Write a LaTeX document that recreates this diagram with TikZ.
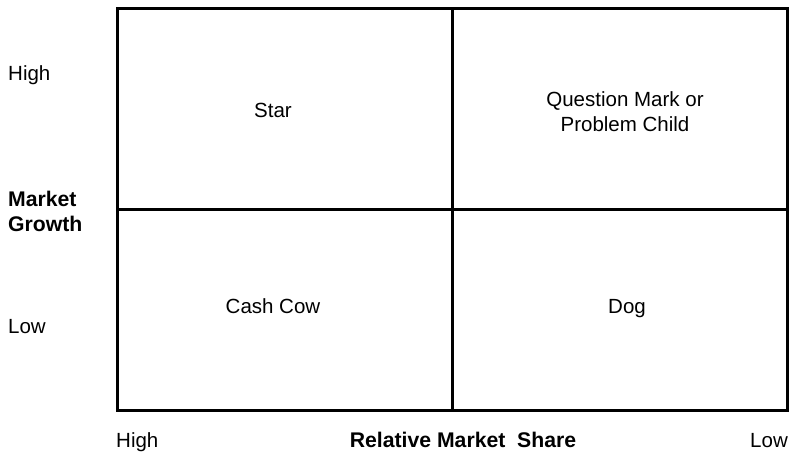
\documentclass[tikz,border=0pt]{standalone}
\usepackage{fontspec}
\setmainfont{Liberation Sans}
\begin{document}
\begin{tikzpicture}[x=1pt,y=-1pt,
  quad/.style={draw=black,line width=2.7pt,minimum width=335pt,minimum height=201pt,inner sep=0pt,anchor=north west},
  lbl/.style={inner sep=0pt,font=\fontsize{20.5}{25}\selectfont,align=center},
  axl/.style={inner sep=0pt,font=\fontsize{21.2}{25}\selectfont\bfseries,align=left}]
\useasboundingbox (0,0) rectangle (789,453);
\node[quad] (tl) at (116,7) {};
\node[quad] (tr) at (451,7) {};
\node[quad] (bl) at (116,208) {};
\node[quad] (br) at (451,208) {};
\node[lbl,anchor=base] (star) at (273,117) {Star};
\node[lbl,anchor=base] (qm) at (625,131) {Question Mark or\\Problem Child};
\node[lbl,anchor=base] (cash) at (273,313) {Cash Cow};
\node[lbl,anchor=base] (dog) at (627,313) {Dog};
\node[lbl,anchor=base west] (yhigh) at (8,80) {High};
\node[lbl,anchor=base west] (ylow) at (8,333) {Low};
\node[axl,anchor=base west] (ytitle) at (8,231) {Market\\Growth};
\node[lbl,anchor=base west] (xhigh) at (116,447) {High};
\node[lbl,anchor=base east] (xlow) at (788,447) {Low};
\node[axl,anchor=base] (xtitle) at (463,447) {Relative Market\ \ Share};
\end{tikzpicture}
\end{document}
